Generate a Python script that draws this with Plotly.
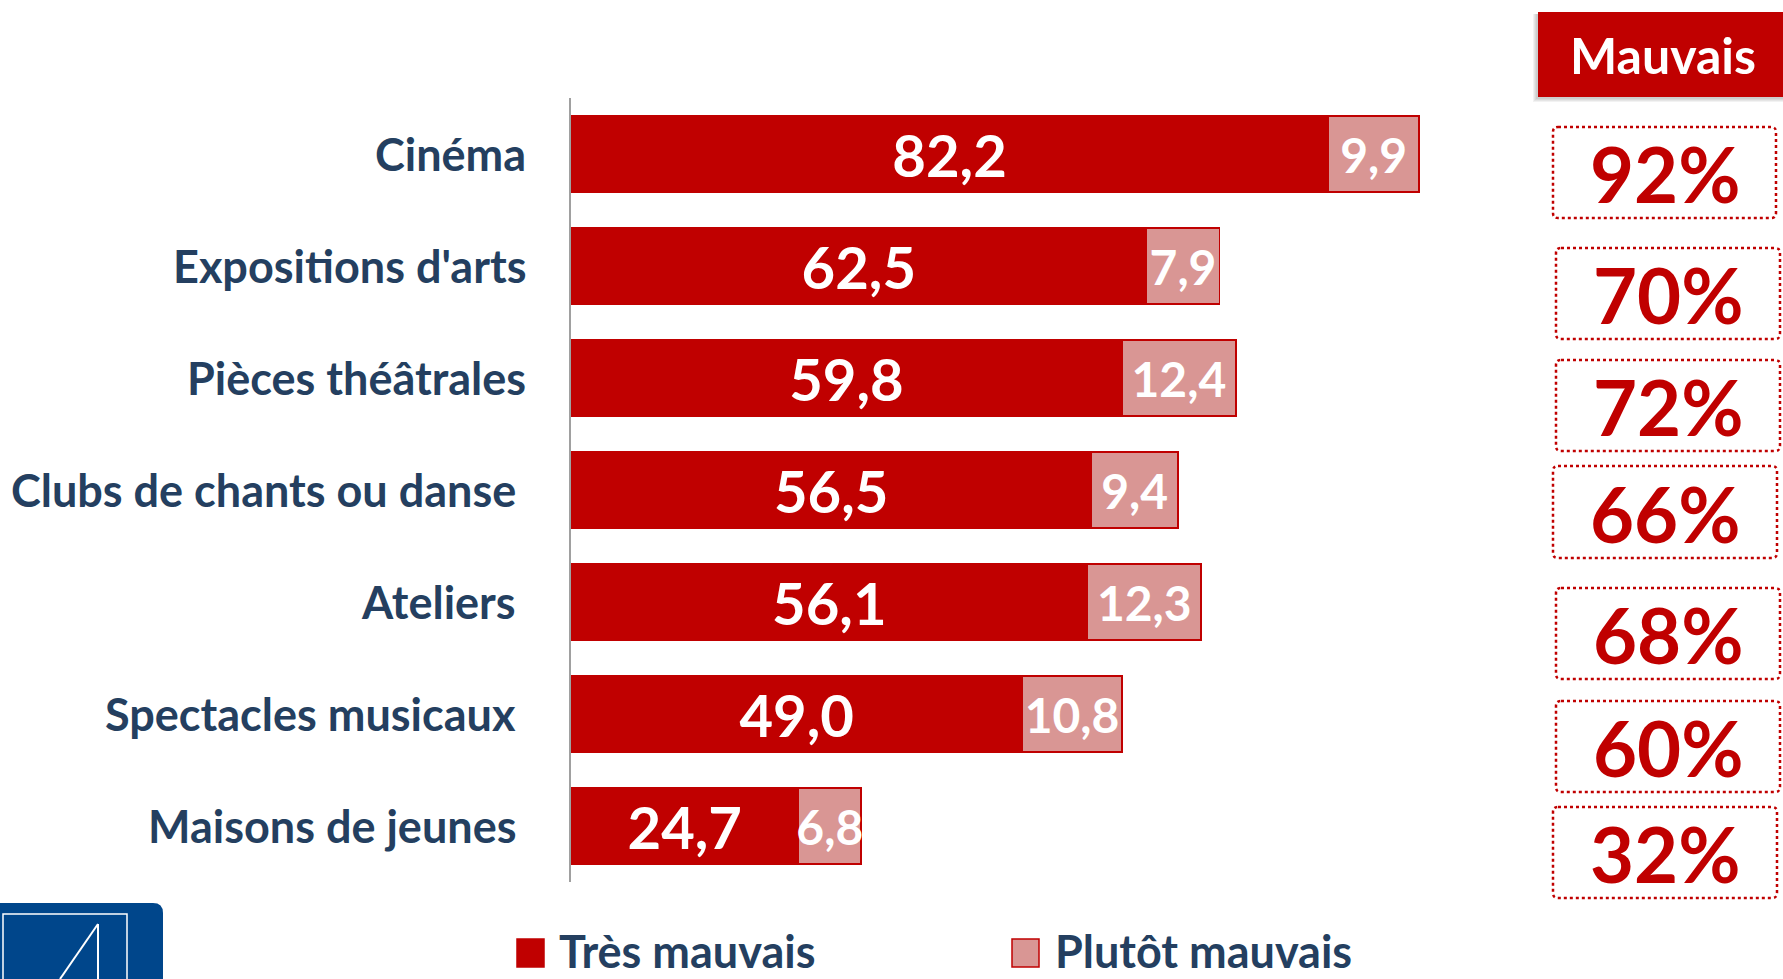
import plotly.graph_objects as go

# ---------------- data ----------------
categories = ["Cinéma", "Expositions d'arts", "Pièces théâtrales",
              "Clubs de chants ou danse", "Ateliers", "Spectacles musicaux",
              "Maisons de jeunes"]
tres_mauvais = [82.2, 62.5, 59.8, 56.5, 56.1, 49.0, 24.7]
plutot_mauvais = [9.9, 7.9, 12.4, 9.4, 12.3, 10.8, 6.8]
total_mauvais = [92, 70, 72, 66, 68, 60, 32]
series_names = ["Très mauvais", "Plutôt mauvais"]
header_label = "Mauvais"

# ---------------- style ----------------
DARK = "#C00000"
LIGHT = "#D99694"
NAVY = "#243F60"
FONT = "Lato"

W, H = 1783, 979
L, R, T, B = 571, 1492, 98, 882


def px(x):
    return (x - L) / (R - L)


def py(y):
    return (B - y) / (B - T)


def fmt(v):
    return f"{v:.1f}".replace(".", ",")


def rrect_path(x0, y0, x1, y1, r):
    pts = [
        ("M", [(x0 + r, y0)]),
        ("L", [(x1 - r, y0)]),
        ("Q", [(x1, y0), (x1, y0 + r)]),
        ("L", [(x1, y1 - r)]),
        ("Q", [(x1, y1), (x1 - r, y1)]),
        ("L", [(x0 + r, y1)]),
        ("Q", [(x0, y1), (x0, y1 - r)]),
        ("L", [(x0, y0 + r)]),
        ("Q", [(x0, y0), (x0 + r, y0)]),
    ]
    s = ""
    for cmd, ps in pts:
        s += cmd + " " + " ".join(f"{px(a):.5f},{py(b):.5f}" for a, b in ps) + " "
    return s + "Z"


fig = go.Figure()
fig.add_trace(go.Bar(
    y=categories, x=tres_mauvais, orientation="h", name=series_names[0],
    marker=dict(color=DARK, line=dict(color=DARK, width=1.5)),
    text=[fmt(v) for v in tres_mauvais], textposition="inside",
    insidetextanchor="middle", textangle=0, constraintext="none",
    insidetextfont=dict(family=FONT, size=58, color="white", weight=700),
    showlegend=False, hoverinfo="skip",
))
fig.add_trace(go.Bar(
    y=categories, x=plutot_mauvais, orientation="h", name=series_names[1],
    marker=dict(color=LIGHT, line=dict(color=DARK, width=1.5)),
    text=[fmt(v) for v in plutot_mauvais], textposition="inside",
    insidetextanchor="middle", textangle=0, constraintext="none",
    insidetextfont=dict(family=FONT, size=48, color="white", weight=700),
    showlegend=False, hoverinfo="skip",
))

annotations = []
shapes = []

# category labels
label_right = [528, 528, 528, 518, 518, 518, 518]
for cat, xr in zip(categories, label_right):
    annotations.append(dict(
        x=0, xref="paper", xshift=xr - L, y=cat, yref="y",
        text=cat, showarrow=False, xanchor="right", yanchor="middle",
        font=dict(family=FONT, size=45, color=NAVY, weight=700),
    ))

# header shadow + box
for i in range(4):
    d = i + 2
    shapes.append(dict(type="rect", xref="paper", yref="paper",
                       x0=px(1538 - d), x1=px(1783), y0=py(14), y1=py(97 + d),
                       fillcolor="rgba(0,0,0,0.05)", line=dict(width=0)))
shapes.append(dict(type="rect", xref="paper", yref="paper",
                   x0=px(1538), x1=px(1783), y0=py(12), y1=py(97),
                   fillcolor=DARK, line=dict(width=0)))
annotations.append(dict(
    x=px(1663), y=py(55), xref="paper", yref="paper", text=header_label,
    showarrow=False, xanchor="center", yanchor="middle",
    font=dict(family=FONT, size=50, color="white", weight=700),
))

# percent boxes
boxes = [(1553, 127, 1776, 218), (1556, 248, 1780, 339), (1556, 360, 1780, 451),
         (1553, 466, 1777, 558), (1556, 588, 1780, 679), (1556, 701, 1780, 792),
         (1553, 807, 1777, 898)]
for (x0, y0, x1, y1), v in zip(boxes, total_mauvais):
    shapes.append(dict(type="path", xref="paper", yref="paper",
                       path=rrect_path(x0, y0, x1, y1, 5),
                       line=dict(color=DARK, width=2.5, dash="dot")))
    annotations.append(dict(
        x=px((x0 + x1) / 2), y=py((y0 + y1) / 2 + 1), xref="paper", yref="paper",
        text=f"{v}%", showarrow=False, xanchor="center", yanchor="middle",
        font=dict(family=FONT, size=76, color=DARK, weight=700),
    ))

# custom legend
leg = [(517, 557, DARK), (1012, 1053, LIGHT)]
for (sx, tx, col), name in zip(leg, series_names):
    shapes.append(dict(type="rect", xref="paper", yref="paper",
                       x0=px(sx), x1=px(sx + 27), y0=py(939), y1=py(967),
                       fillcolor=col, line=dict(color=DARK, width=1.5)))
    annotations.append(dict(
        x=px(tx), y=py(951), xref="paper", yref="paper", text=name,
        showarrow=False, xanchor="left", yanchor="middle",
        font=dict(family=FONT, size=45, color=NAVY, weight=700),
    ))

# logo (bottom-left)
shapes.append(dict(type="path", xref="paper", yref="paper",
                   path=rrect_path(-10, 903, 163, 1000, 10),
                   fillcolor="#00468B", line=dict(width=0)))
shapes.append(dict(type="rect", xref="paper", yref="paper",
                   x0=px(3), x1=px(127), y0=py(914), y1=py(995),
                   line=dict(color="white", width=1.5)))
shapes.append(dict(type="line", xref="paper", yref="paper",
                   x0=px(98), x1=px(98), y0=py(924), y1=py(995),
                   line=dict(color="white", width=2)))
shapes.append(dict(type="line", xref="paper", yref="paper",
                   x0=px(98), x1=px(60), y0=py(924), y1=py(979),
                   line=dict(color="white", width=2)))

fig.update_layout(
    width=W, height=H,
    margin=dict(l=L, r=W - R, t=T, b=H - B, pad=0),
    barmode="stack", bargap=0.32,
    plot_bgcolor="white", paper_bgcolor="white",
    xaxis=dict(range=[0, 100], visible=False, fixedrange=True),
    yaxis=dict(categoryorder="array", categoryarray=categories[::-1],
               range=[-0.5, 6.5], showticklabels=False, ticks="",
               showgrid=False, zeroline=False, showline=True,
               linecolor="#A0A0A0", linewidth=2, fixedrange=True),
    annotations=annotations, shapes=shapes,
)

fig.write_html(
    "out.html",
    config={"displayModeBar": False},
    post_script="document.body.style.margin='0';document.body.style.overflow='hidden';",
)
